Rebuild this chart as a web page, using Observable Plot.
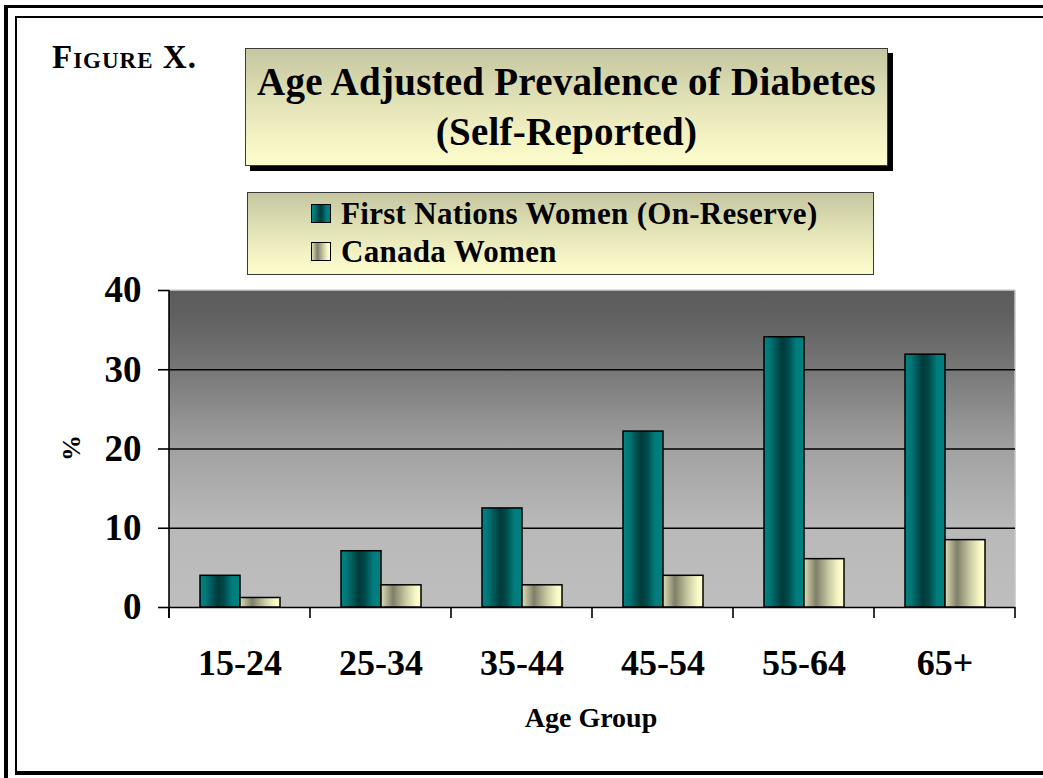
<!DOCTYPE html>
<html>
<head>
<meta charset="utf-8">
<script src="https://cdn.jsdelivr.net/npm/d3@7"></script>
<script src="https://cdn.jsdelivr.net/npm/@observablehq/plot@0.6"></script>
<style>
  html, body { margin: 0; padding: 0; background: #fff; }
  #page { position: relative; width: 1043px; height: 778px; overflow: hidden; background: #fff;
          font-family: "Liberation Serif", "Times New Roman", serif; font-weight: bold; color: #000; }
  .outer { position: absolute; left: 4px; top: 5px; width: 1100px; height: 900px;
           border-left: 4px solid #000; border-top: 3px solid #000; box-sizing: border-box; }
  .inner { position: absolute; left: 15px; top: 16px; width: 1100px; height: 759px;
           border-left: 2px solid #000; border-top: 2px solid #000; border-bottom: 4px solid #000; box-sizing: border-box; }
  #figlabel { position: absolute; left: 52px; top: 41px; font-size: 33px; line-height: 33px;
              font-variant: small-caps; letter-spacing: 1px; white-space: nowrap; }
  .panel { position: absolute; box-sizing: border-box; border: 1px solid #3a3a3a;
           background: linear-gradient(to bottom, #c6c6a0 0%, #dcdcb2 35%, #f2f2c4 75%, #fcfccb 100%); }
  #titlebox { left: 245px; top: 48px; width: 643px; height: 118px; box-shadow: 5px 5px 0 #000;
              text-align: center; font-size: 39px; line-height: 50px; padding-top: 8px; white-space: nowrap;
              letter-spacing: 0.25px; }
  #legend { left: 247px; top: 192px; width: 627px; height: 83px; font-size: 31px; }
  .item { position: absolute; left: 0; height: 38px; line-height: 38px; white-space: nowrap; }
  .sw { position: absolute; left: 63px; top: 8.5px; width: 20px; height: 19px; box-sizing: border-box; border: 1px solid #000; }
  .lt { position: absolute; left: 93px; top: -1px; letter-spacing: 0.3px; }
  #chart { position: absolute; left: 0; top: 275px; }
  #ylabel { position: absolute; left: 72px; top: 448px; font-size: 26px; line-height: 26px;
            transform: translate(-50%, -50%) rotate(-90deg); }
  #xlabel { position: absolute; left: 591px; top: 704px; transform: translateX(-50%);
            font-size: 28px; line-height: 28px; white-space: nowrap; }
</style>
</head>
<body>
<svg width="0" height="0" style="position:absolute">
  <defs>
    <linearGradient id="gradBg" x1="0" y1="0" x2="0" y2="1">
      <stop offset="0" stop-color="#5c5c5c"/>
      <stop offset="0.08" stop-color="#606060"/>
      <stop offset="0.25" stop-color="#777777"/>
      <stop offset="0.5" stop-color="#a1a1a1"/>
      <stop offset="0.74" stop-color="#b9b9b9"/>
      <stop offset="1" stop-color="#bebebe"/>
    </linearGradient>
    <linearGradient id="gradFN" x1="0" y1="0" x2="1" y2="0">
      <stop offset="0" stop-color="#008585"/>
      <stop offset="0.15" stop-color="#007575"/>
      <stop offset="0.45" stop-color="#003a3a"/>
      <stop offset="0.6" stop-color="#004a4a"/>
      <stop offset="0.8" stop-color="#007c7c"/>
      <stop offset="1" stop-color="#008080"/>
    </linearGradient>
    <linearGradient id="gradCA" x1="0" y1="0" x2="1" y2="0">
      <stop offset="0" stop-color="#dedeb4"/>
      <stop offset="0.3" stop-color="#7f7f6a"/>
      <stop offset="0.65" stop-color="#d0d0a8"/>
      <stop offset="0.88" stop-color="#fafac8"/>
      <stop offset="1" stop-color="#ffffcc"/>
    </linearGradient>
  </defs>
</svg>
<div id="page">
  <div class="outer"></div>
  <div class="inner"></div>
  <div id="figlabel"></div>
  <div id="titlebox" class="panel"></div>
  <div id="legend" class="panel"></div>
  <div id="chart"></div>
  <div id="ylabel"></div>
  <div id="xlabel"></div>
</div>
<script>
// ---- data ----
const ages = ["15-24", "25-34", "35-44", "45-54", "55-64", "65+"];
const seriesNames = ["First Nations Women (On-Reserve)", "Canada Women"];
const firstNationsWomen = [4.0, 7.1, 12.5, 22.2, 34.1, 31.9];
const canadaWomen = [1.2, 2.8, 2.8, 4.0, 6.1, 8.5];
const yTicks = [0, 10, 20, 30, 40];
const gridTicks = [10, 20, 30];
const titleLines = ["Age Adjusted Prevalence of Diabetes", "(Self-Reported)"];
const figureLabel = "Figure X.";
const xTitle = "Age Group";
const yTitle = "%";
const seriesFills = ["url(#gradFN)", "url(#gradCA)"];
const swatchFills = [
  "linear-gradient(to right, #008585 0%, #007575 15%, #003a3a 45%, #004a4a 60%, #007c7c 80%, #008080 100%)",
  "linear-gradient(to right, #dedeb4 0%, #7f7f6a 30%, #d0d0a8 65%, #fafac8 88%, #ffffcc 100%)"
];

const rows = ages.flatMap((age, i) => [
  {age, series: seriesNames[0], value: firstNationsWomen[i]},
  {age, series: seriesNames[1], value: canadaWomen[i]}
]);

// ---- texts ----
document.getElementById("figlabel").textContent = figureLabel;
const tb = document.getElementById("titlebox");
titleLines.forEach(t => { const d = document.createElement("div"); d.textContent = t; tb.appendChild(d); });
const lg = document.getElementById("legend");
seriesNames.forEach((s, k) => {
  const it = document.createElement("div");
  it.className = "item";
  it.style.top = (2.5 + 38 * k) + "px";
  const sw = document.createElement("div"); sw.className = "sw"; sw.style.background = swatchFills[k];
  const lt = document.createElement("div"); lt.className = "lt"; lt.textContent = s;
  it.appendChild(sw); it.appendChild(lt); lg.appendChild(it);
});
document.getElementById("xlabel").textContent = xTitle;
document.getElementById("ylabel").textContent = yTitle;

// ---- chart ----
const chart = Plot.plot({
  width: 1043,
  height: 475,
  marginLeft: 167,
  marginRight: 27,
  marginTop: 15,
  marginBottom: 143,
  style: {fontFamily: "'Liberation Serif', 'Times New Roman', serif", fontWeight: "bold", background: "transparent", color: "#000", overflow: "visible"},
  fx: {domain: ages, paddingInner: 0, paddingOuter: 0, label: null},
  x: {domain: seriesNames, paddingInner: 0, paddingOuter: 0.747, axis: null},
  y: {domain: [0, 40], label: null},
  marks: [
    Plot.gridY({ticks: gridTicks, stroke: "#000", strokeOpacity: 1, strokeWidth: 1.6}),
    Plot.ruleY([0], {stroke: "#000", strokeWidth: 1.6}),
    ...seriesNames.map((s, k) => Plot.barY(rows, {
      filter: d => d.series === s,
      fx: "age", x: "series", y: "value",
      fill: seriesFills[k], stroke: "#000", strokeWidth: 1.5
    })),
    Plot.axisY({ticks: yTicks, tickSize: 11, tickPadding: 17, fontSize: 37, strokeWidth: 1.6, label: null}),
    Plot.axisFx({anchor: "bottom", tickSize: 0, tickPadding: 42, fontSize: 36, label: null})
  ]
});

// plot-area background, borders, axis line and between-category ticks, placed with the plot's own scales
const fx = chart.scale("fx");
const y = chart.scale("y");
const edges = ages.map(a => fx.apply(a)).concat([fx.apply(ages[ages.length - 1]) + fx.bandwidth]);
const y0 = y.apply(0), yTop = y.apply(40);
const xL = edges[0], xR = edges[edges.length - 1];
const svg = d3.select(chart);
const bg = svg.insert("g", ":first-child");
bg.append("rect").attr("x", xL).attr("y", yTop).attr("width", xR - xL).attr("height", y0 - yTop)
  .attr("fill", "url(#gradBg)");
bg.append("line").attr("x1", xL).attr("x2", xR).attr("y1", yTop).attr("y2", yTop)
  .attr("stroke", "#d2d2d2").attr("stroke-width", 1.5);
bg.append("line").attr("x1", xR).attr("x2", xR).attr("y1", yTop).attr("y2", y0)
  .attr("stroke", "#c4c4c4").attr("stroke-width", 1.5);
const g = svg.append("g");
g.selectAll("line.xt").data(edges).join("line").attr("class", "xt")
  .attr("x1", d => d).attr("x2", d => d).attr("y1", y0).attr("y2", y0 + 11)
  .attr("stroke", "#000").attr("stroke-width", 1.6);
g.append("line").attr("x1", xL).attr("x2", xL).attr("y1", yTop).attr("y2", y0 + 11)
  .attr("stroke", "#000").attr("stroke-width", 1.6);

document.getElementById("chart").appendChild(chart);
</script>
</body>
</html>
